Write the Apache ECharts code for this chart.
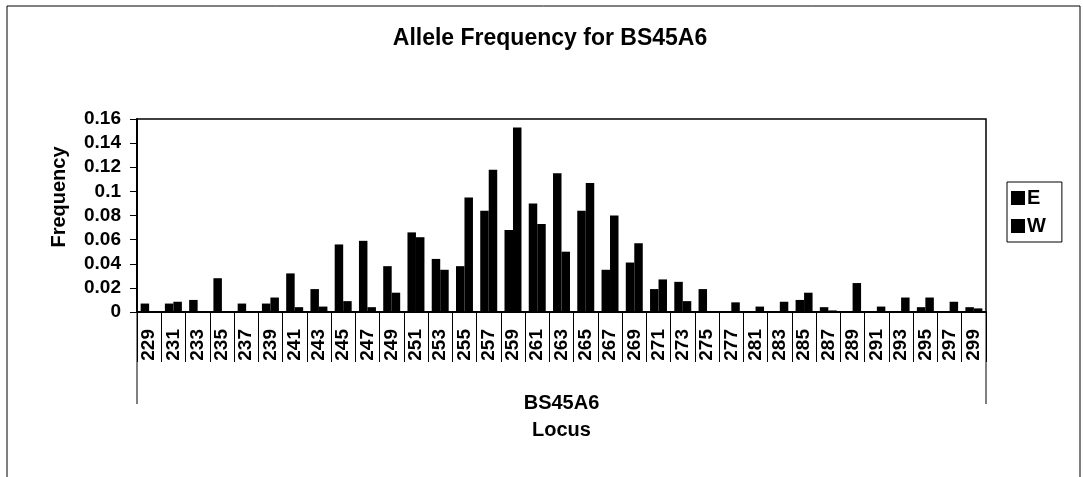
<!DOCTYPE html>
<html>
<head>
<meta charset="utf-8">
<script src="https://cdn.jsdelivr.net/npm/echarts@6/dist/echarts.min.js"></script>
<style>
  html, body { margin: 0; padding: 0; background: #fff; }
  #chart { width: 1083px; height: 477px; }
</style>
</head>
<body>
<div id="chart"></div>
<script>
// locus categories (279 is absent in the source)
const loci = ['229', '231', '233', '235', '237', '239', '241', '243', '245', '247',
  '249', '251', '253', '255', '257', '259', '261', '263', '265', '267',
  '269', '271', '273', '275', '277', '281', '283', '285', '287', '289',
  '291', '293', '295', '297', '299'];

const freqE = [0.007, 0.007, 0.010, 0.028, 0.007, 0.007, 0.032, 0.019, 0.056, 0.059,
  0.038, 0.066, 0.044, 0.038, 0.084, 0.068, 0.090, 0.115, 0.084, 0.035,
  0.041, 0.019, 0.025, 0.019, 0, 0, 0, 0.010, 0.004, 0,
  0, 0, 0.004, 0, 0.004];

const freqW = [0, 0.0085, 0, 0, 0, 0.012, 0.004, 0.0045, 0.009, 0.004,
  0.016, 0.062, 0.035, 0.095, 0.118, 0.153, 0.073, 0.050, 0.107, 0.080,
  0.057, 0.027, 0.009, 0, 0.008, 0.0045, 0.0085, 0.016, 0.0013, 0.024,
  0.0045, 0.012, 0.012, 0.0085, 0.003];

const font = "'Liberation Sans', Arial, sans-serif";

// plot area
const plotL = 137, plotR = 986, plotT = 119, plotB = 312;

const chart = echarts.init(document.getElementById('chart'));

const option = {
  backgroundColor: '#fff',
  animation: false,
  textStyle: { fontFamily: font, color: '#000' },
  title: {
    text: 'Allele Frequency for BS45A6',
    left: 545,
    top: 22,
    textAlign: 'center',
    textStyle: { fontFamily: font, fontSize: 23, fontWeight: 'bold', color: '#000' }
  },
  legend: {
    orient: 'vertical',
    left: 1007,
    top: 182,
    padding: [6, 16, 6, 4],
    itemGap: 8,
    itemWidth: 14,
    itemHeight: 14,
    icon: 'rect',
    borderColor: '#000',
    borderWidth: 1,
    textStyle: { fontFamily: font, fontSize: 20, fontWeight: 'bold', color: '#000', padding: [0, 0, 0, -3] },
    data: ['E', 'W']
  },
  grid: {
    left: plotL,
    right: 1083 - plotR,
    top: plotT,
    bottom: 477 - plotB,
    show: true,
    borderColor: '#000',
    borderWidth: 1.5,
    containLabel: false
  },
  xAxis: {
    type: 'category',
    data: loci,
    name: 'BS45A6',
    nameLocation: 'middle',
    nameGap: 81,
    nameTextStyle: { fontFamily: font, fontSize: 20, fontWeight: 'bold', color: '#000' },
    axisLine: { lineStyle: { color: '#000', width: 2 } },
    axisTick: { show: true, interval: 0, length: 50, lineStyle: { color: '#000', width: 1 } },
    axisLabel: {
      interval: 0,
      rotate: 90,
      margin: 17,
      fontFamily: font,
      fontSize: 19,
      fontWeight: 'bold',
      color: '#000'
    }
  },
  yAxis: {
    type: 'value',
    min: 0,
    max: 0.16,
    interval: 0.02,
    axisLine: { show: true, lineStyle: { color: '#000', width: 2 } },
    axisTick: { show: true, length: 7, lineStyle: { color: '#000', width: 1 } },
    splitLine: { show: false },
    axisLabel: { margin: 16, fontFamily: font, fontSize: 19, fontWeight: 'bold', color: '#000' }
  },
  series: [
    {
      name: 'E',
      type: 'bar',
      data: freqE,
      barGap: '0%',
      barCategoryGap: '30%',
      itemStyle: { color: '#000' }
    },
    {
      name: 'W',
      type: 'bar',
      data: freqW,
      barGap: '0%',
      barCategoryGap: '30%',
      itemStyle: { color: '#000' }
    }
  ],
  graphic: [
    // chart frame
    { type: 'rect', shape: { x: 7, y: 6, width: 1073, height: 490 }, style: { fill: 'none', stroke: '#000', lineWidth: 1 } },
    // outer category bracket
    { type: 'line', shape: { x1: plotL, y1: plotB, x2: plotL, y2: 404 }, style: { stroke: '#000', lineWidth: 1 } },
    { type: 'line', shape: { x1: plotR, y1: plotB, x2: plotR, y2: 404 }, style: { stroke: '#000', lineWidth: 1 } },
    {
      type: 'text',
      x: 59,
      y: 197,
      rotation: Math.PI / 2,
      style: { text: 'Frequency', font: 'bold 20px ' + font, fill: '#000', textAlign: 'center', textVerticalAlign: 'middle' }
    },
    {
      type: 'text',
      x: (plotL + plotR) / 2,
      y: 430,
      style: { text: 'Locus', font: 'bold 20px ' + font, fill: '#000', textAlign: 'center', textVerticalAlign: 'middle' }
    }
  ]
};

chart.setOption(option);
</script>
</body>
</html>
